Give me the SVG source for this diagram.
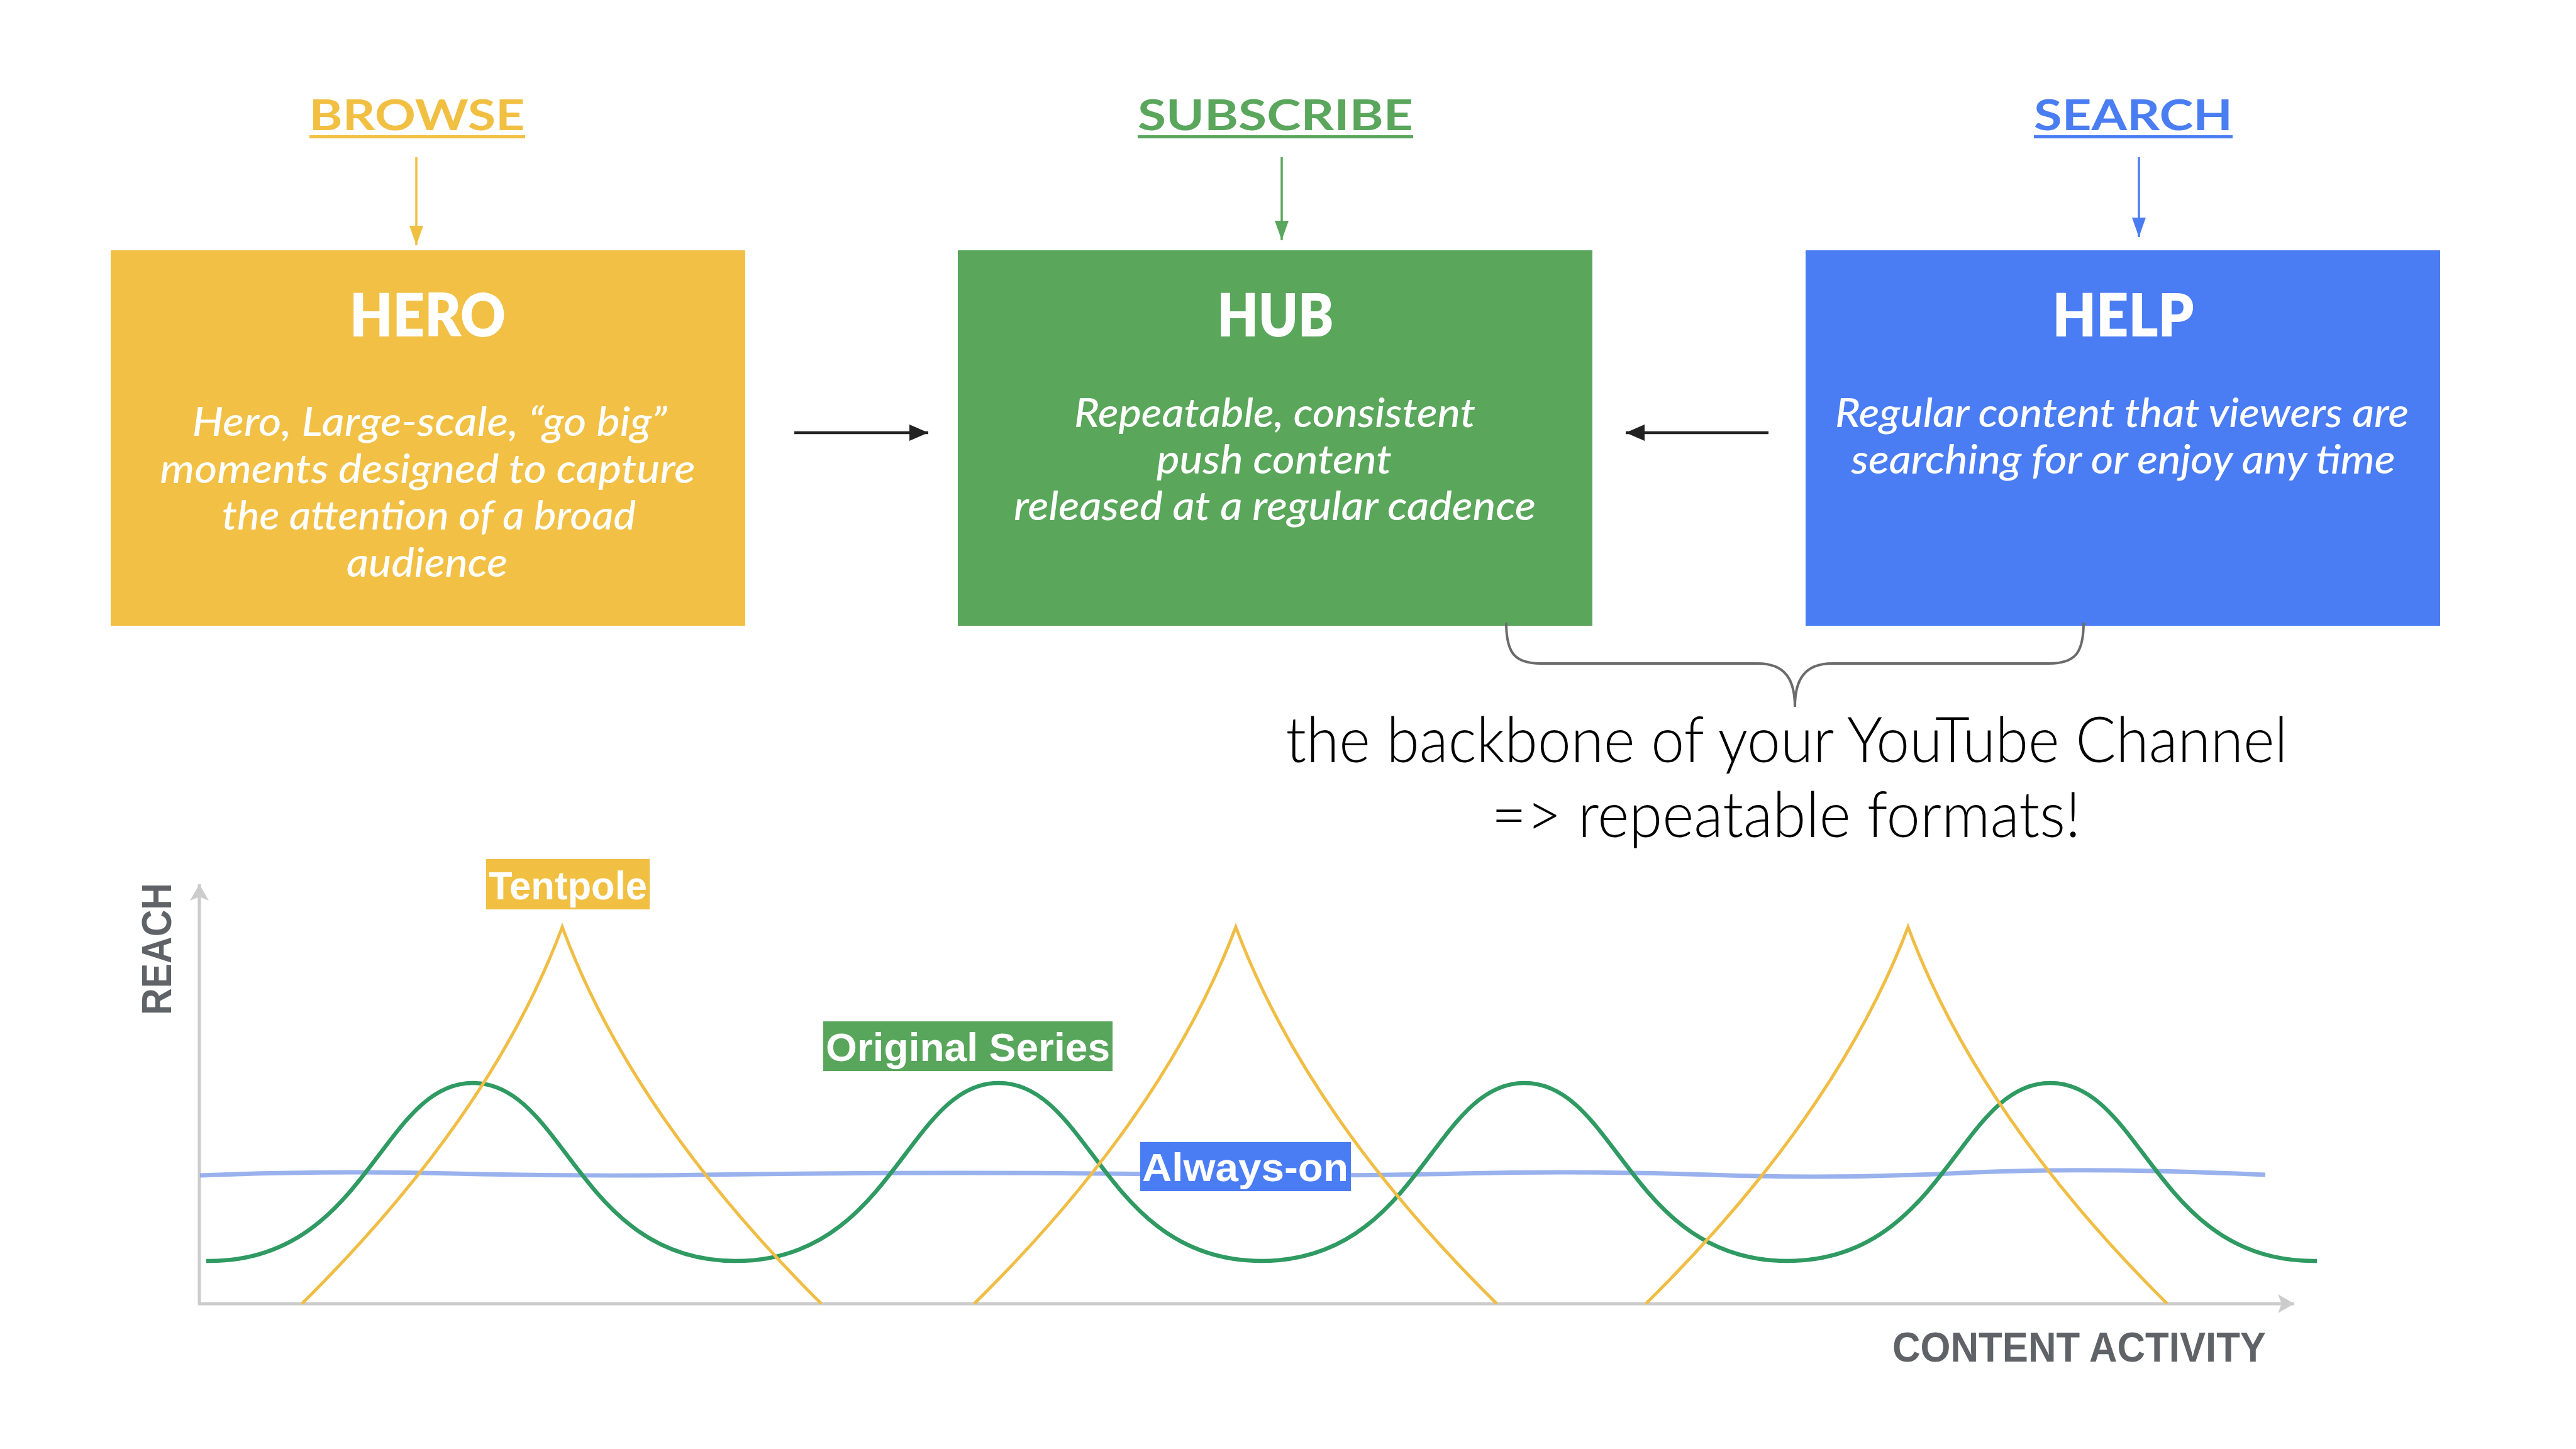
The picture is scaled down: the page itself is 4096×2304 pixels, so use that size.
<svg xmlns="http://www.w3.org/2000/svg" width="4096" height="2304" viewBox="0 0 4096 2304">
<style>
.lbl{font-family:Lato,"Open Sans",sans-serif;font-weight:700;font-size:66px;text-anchor:middle}
.ttl{font-family:Lato,"Open Sans",sans-serif;font-weight:800;font-size:94px;fill:#ffffff;text-anchor:middle}
.body{font-family:Lato,"Open Sans",sans-serif;font-style:italic;font-weight:500;font-size:63px;fill:#ffffff;text-anchor:middle}
.hand{font-family:Lato,"Open Sans",sans-serif;font-weight:300;font-size:100px;fill:#000000;text-anchor:middle}
.ax{font-family:"Liberation Sans Narrow","Liberation Sans",Arial,sans-serif;font-weight:700;font-size:66px;fill:#5f6368;text-anchor:middle}
.tag{font-family:"Liberation Sans Narrow","Liberation Sans",Arial,sans-serif;font-weight:700;font-size:63px;fill:#ffffff;text-anchor:middle}
.vy{stroke:#f1bf42;stroke-width:3.5;fill:none}
.vg{stroke:#5aa65c;stroke-width:3.5;fill:none}
.vb{stroke:#4a7df2;stroke-width:3.5;fill:none}
.hk{stroke:#222222;stroke-width:4.5;fill:none}
.axis{stroke:#cccccc;stroke-width:5;fill:none}
.tent{stroke:#f0bd45;stroke-width:5;fill:none}
</style>
<defs>
<marker id="ahY" markerUnits="userSpaceOnUse" markerWidth="32" markerHeight="22" refX="31" refY="11" orient="auto"><path d="M0,0 L31,11 L0,22 Z" fill="#f1bf42"/></marker>
<marker id="ahG" markerUnits="userSpaceOnUse" markerWidth="32" markerHeight="22" refX="31" refY="11" orient="auto"><path d="M0,0 L31,11 L0,22 Z" fill="#5aa65c"/></marker>
<marker id="ahB" markerUnits="userSpaceOnUse" markerWidth="32" markerHeight="22" refX="31" refY="11" orient="auto"><path d="M0,0 L31,11 L0,22 Z" fill="#4a7df2"/></marker>
<marker id="ahK" markerUnits="userSpaceOnUse" markerWidth="31" markerHeight="26" refX="30" refY="13" orient="auto"><path d="M0,0 L30,13 L0,26 Z" fill="#222222"/></marker>
<marker id="ahA" markerUnits="userSpaceOnUse" markerWidth="28" markerHeight="30" refX="26" refY="15" orient="auto"><path d="M0,0 L26,15 L0,30 L6,15 Z" fill="#cccccc"/></marker>
</defs>
<rect width="4096" height="2304" fill="#ffffff"/>

<g id="node-browse">
<text class="lbl" x="663" y="207" fill="#f1bf42" textLength="343" lengthAdjust="spacingAndGlyphs">BROWSE</text>
<rect x="492" y="215" width="343" height="5" fill="#f1bf42"/>
</g>
<g id="node-subscribe">
<text class="lbl" x="2028" y="207" fill="#5aa65c" textLength="438" lengthAdjust="spacingAndGlyphs">SUBSCRIBE</text>
<rect x="1809" y="215" width="438" height="5" fill="#5aa65c"/>
</g>
<g id="node-search">
<text class="lbl" x="3392" y="207" fill="#4a7df2" textLength="316" lengthAdjust="spacingAndGlyphs">SEARCH</text>
<rect x="3234" y="215" width="316" height="5" fill="#4a7df2"/>
</g>

<g id="node-hero">
<rect x="176" y="398" width="1009" height="597" fill="#f1c045"/>
<text class="ttl" x="680" y="535" textLength="248" lengthAdjust="spacingAndGlyphs">HERO</text>
<text class="body" x="683" y="693" textLength="755" lengthAdjust="spacingAndGlyphs">Hero, Large-scale, “go big”</text>
<text class="body" x="680" y="768" textLength="851" lengthAdjust="spacingAndGlyphs">moments designed to capture</text>
<text class="body" x="682" y="842" textLength="658" lengthAdjust="spacingAndGlyphs">the attention of a broad</text>
<text class="body" x="679" y="917" textLength="256" lengthAdjust="spacingAndGlyphs">audience</text>
</g>
<g id="node-hub">
<rect x="1523" y="398" width="1009" height="597" fill="#5aa65b"/>
<text class="ttl" x="2028" y="535" textLength="185" lengthAdjust="spacingAndGlyphs">HUB</text>
<text class="body" x="2027" y="679" textLength="638" lengthAdjust="spacingAndGlyphs">Repeatable, consistent</text>
<text class="body" x="2026" y="753" textLength="374" lengthAdjust="spacingAndGlyphs">push content</text>
<text class="body" x="2027" y="827" textLength="830" lengthAdjust="spacingAndGlyphs">released at a regular cadence</text>
</g>
<g id="node-help">
<rect x="2871" y="398" width="1009" height="597" fill="#4a7cf3"/>
<text class="ttl" x="3376" y="535" textLength="225" lengthAdjust="spacingAndGlyphs">HELP</text>
<text class="body" x="3374" y="679" textLength="912" lengthAdjust="spacingAndGlyphs">Regular content that viewers are</text>
<text class="body" x="3376" y="753" textLength="865" lengthAdjust="spacingAndGlyphs">searching for or enjoy any time</text>
</g>

<g id="node-annotation">
<text class="hand" x="2841" y="1212" textLength="1593" lengthAdjust="spacingAndGlyphs">the backbone of your YouTube Channel</text>
<text class="hand" x="2840" y="1331" textLength="937" lengthAdjust="spacingAndGlyphs">=&gt; repeatable formats!</text>
</g>

<g id="connectors">
<line class="vy" x1="662" y1="250" x2="662" y2="390" marker-end="url(#ahY)"/>
<line class="vg" x1="2038" y1="250" x2="2038" y2="382" marker-end="url(#ahG)"/>
<line class="vb" x1="3401" y1="250" x2="3401" y2="377" marker-end="url(#ahB)"/>
<line class="hk" x1="1263" y1="688" x2="1476" y2="688" marker-end="url(#ahK)"/>
<line class="hk" x1="2812" y1="688" x2="2585" y2="688" marker-end="url(#ahK)"/>
<path d="M2395,990 C2395,1038 2408,1055 2450,1055 L2795,1055 C2838,1055 2854,1080 2854,1124 C2854,1080 2870,1055 2913,1055 L3258,1055 C3300,1055 3313,1038 3313,990" fill="none" stroke="#6b6b6b" stroke-width="4"/>
</g>

<g id="chart">
<line class="axis" x1="317" y1="2073" x2="317" y2="1406" marker-end="url(#ahA)"/>
<line class="axis" x1="315" y1="2073" x2="3648" y2="2073" marker-end="url(#ahA)"/>
<path id="always-on-line" d="M318,1869 Q520,1861 720,1866 T1120,1868 T1520,1865 T1920,1868 T2320,1866 T2720,1868 T3120,1865 T3602,1868" fill="none" stroke="#7f9fe8" stroke-width="7" stroke-opacity="0.8"/>
<path id="original-series-line" d="M328,2005 L334,2005 C584,2005 606,1722 752,1722 C898,1722 920,2005 1170,2005 C1420,2005 1442,1722 1588,1722 C1734,1722 1756,2005 2006,2005 C2256,2005 2278,1722 2424,1722 C2570,1722 2592,2005 2842,2005 C3092,2005 3114,1722 3260,1722 C3406,1722 3428,2005 3678,2005 L3684,2005" fill="none" stroke="#2f9a62" stroke-width="6.5"/>
<g id="tentpole-lines">
<path class="tent" d="M480,2073 Q782,1774 894,1474 Q1005,1774 1306,2073"/>
<path class="tent" d="M1549,2073 Q1852,1774 1965,1474 Q2077,1774 2380,2073"/>
<path class="tent" d="M2617,2073 Q2920,1774 3034,1474 Q3145,1774 3446,2073"/>
</g>
<g id="label-tentpole">
<rect x="773" y="1366" width="260" height="80" fill="#f1bf42"/>
<text class="tag" x="903" y="1430" textLength="252" lengthAdjust="spacingAndGlyphs">Tentpole</text>
</g>
<g id="label-original-series">
<rect x="1309" y="1624" width="460" height="79" fill="#58a55c"/>
<text class="tag" x="1539" y="1687" textLength="452" lengthAdjust="spacingAndGlyphs">Original Series</text>
</g>
<g id="label-always-on">
<rect x="1813" y="1816" width="335" height="78" fill="#4a7df3"/>
<text class="tag" x="1980" y="1878" textLength="328" lengthAdjust="spacingAndGlyphs">Always-on</text>
</g>
<text class="ax" transform="translate(272,1509) rotate(-90)" textLength="210" lengthAdjust="spacingAndGlyphs">REACH</text>
<text class="ax" x="3306" y="2165" textLength="594" lengthAdjust="spacingAndGlyphs">CONTENT ACTIVITY</text>
</g>
</svg>
